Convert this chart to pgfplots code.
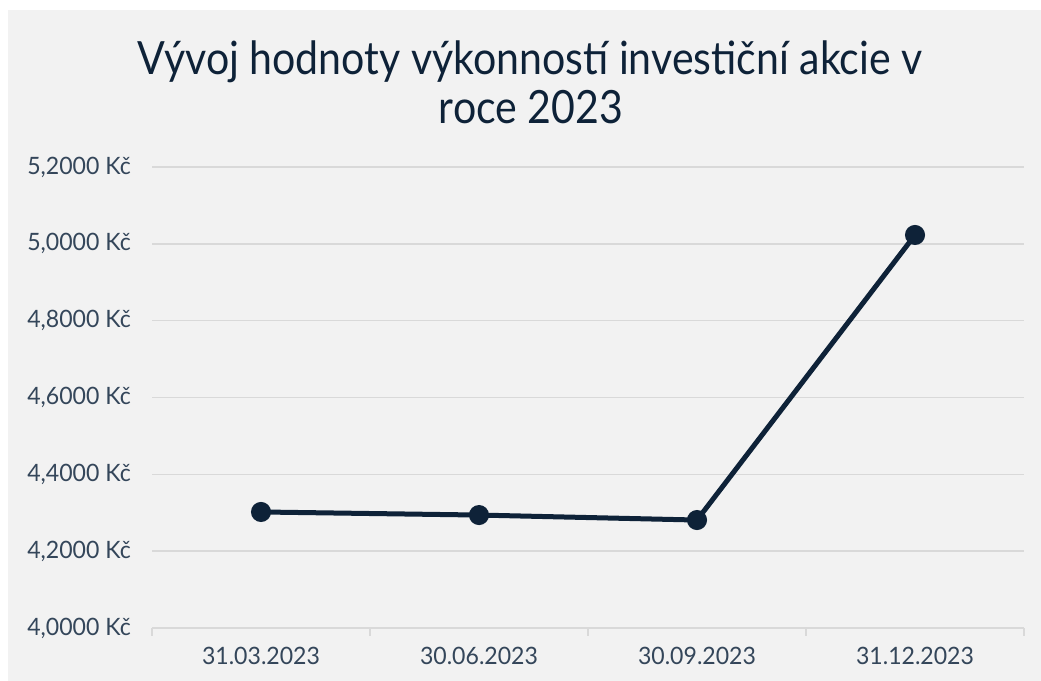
\documentclass[border=0pt]{standalone}
\usepackage{pgfplots}
\pgfplotsset{compat=1.18}
\usepackage{fontspec}
\setmainfont{Lato}
\newfontfamily\titlefont[FakeStretch=0.896]{Lato}
\newfontfamily\tickfont[FakeStretch=0.965]{Lato}
\definecolor{bg}{HTML}{F2F2F2}
\definecolor{gridc}{HTML}{D9D9D9}
\definecolor{navy}{HTML}{0E2238}
\definecolor{txt}{HTML}{34465A}
\begin{document}
\begin{tikzpicture}[x=1bp,y=1bp]
\fill[white] (0,0) rectangle (1041,681);
\fill[bg] (8,0) rectangle (1041,671);
\node[text=navy, font=\titlefont\fontsize{46}{49}\selectfont, anchor=base, inner sep=0pt] at (530,606) {Vývoj hodnoty výkonností investiční akcie v};
\node[text=navy, font=\titlefont\fontsize{46}{49}\selectfont, anchor=base, inner sep=0pt] at (531,557) {roce 2023};
\begin{axis}[
  at={(152bp,53bp)}, anchor=south west, scale only axis,
  width=872bp, height=461bp,
  xmin=-0.5, xmax=3.5, ymin=4, ymax=5.2,
  axis line style={draw=none},
  ytick={4,4.2,4.4,4.6,4.8,5,5.2},
  yticklabels={{4,0000 Kč},{4,2000 Kč},{4,4000 Kč},{4,6000 Kč},{4,8000 Kč},{5,0000 Kč},{5,2000 Kč}},
  xtick={0,1,2,3},
  xticklabels={31.03.2023,30.06.2023,30.09.2023,31.12.2023},
  ymajorgrids,
  grid style={draw=gridc, line width=1.5bp},
  xtick style={draw=none}, ytick style={draw=none},
  xtick pos=left, ytick pos=left,
  yticklabel style={font=\tickfont\fontsize{24}{28}\selectfont, text=txt, anchor=east, inner sep=0pt, xshift=-21bp},
  xticklabel style={font=\tickfont\fontsize{24}{28}\selectfont, text=txt, anchor=base, inner sep=0pt, yshift=-37bp},
  extra x ticks={-0.5,0.5,1.5,2.5,3.5},
  extra x tick labels={},
  extra x tick style={xtick style={draw=gridc, line width=1.5bp}, major tick length=8bp, tick align=outside, grid=none},
  clip=false,
]
\addplot[navy, line width=5bp, mark=*, mark size=7.5bp, mark options={fill=navy, draw=none}] coordinates {(0,4.302) (1,4.294) (2,4.281) (3,5.023)};
\end{axis}
\end{tikzpicture}
\end{document}
